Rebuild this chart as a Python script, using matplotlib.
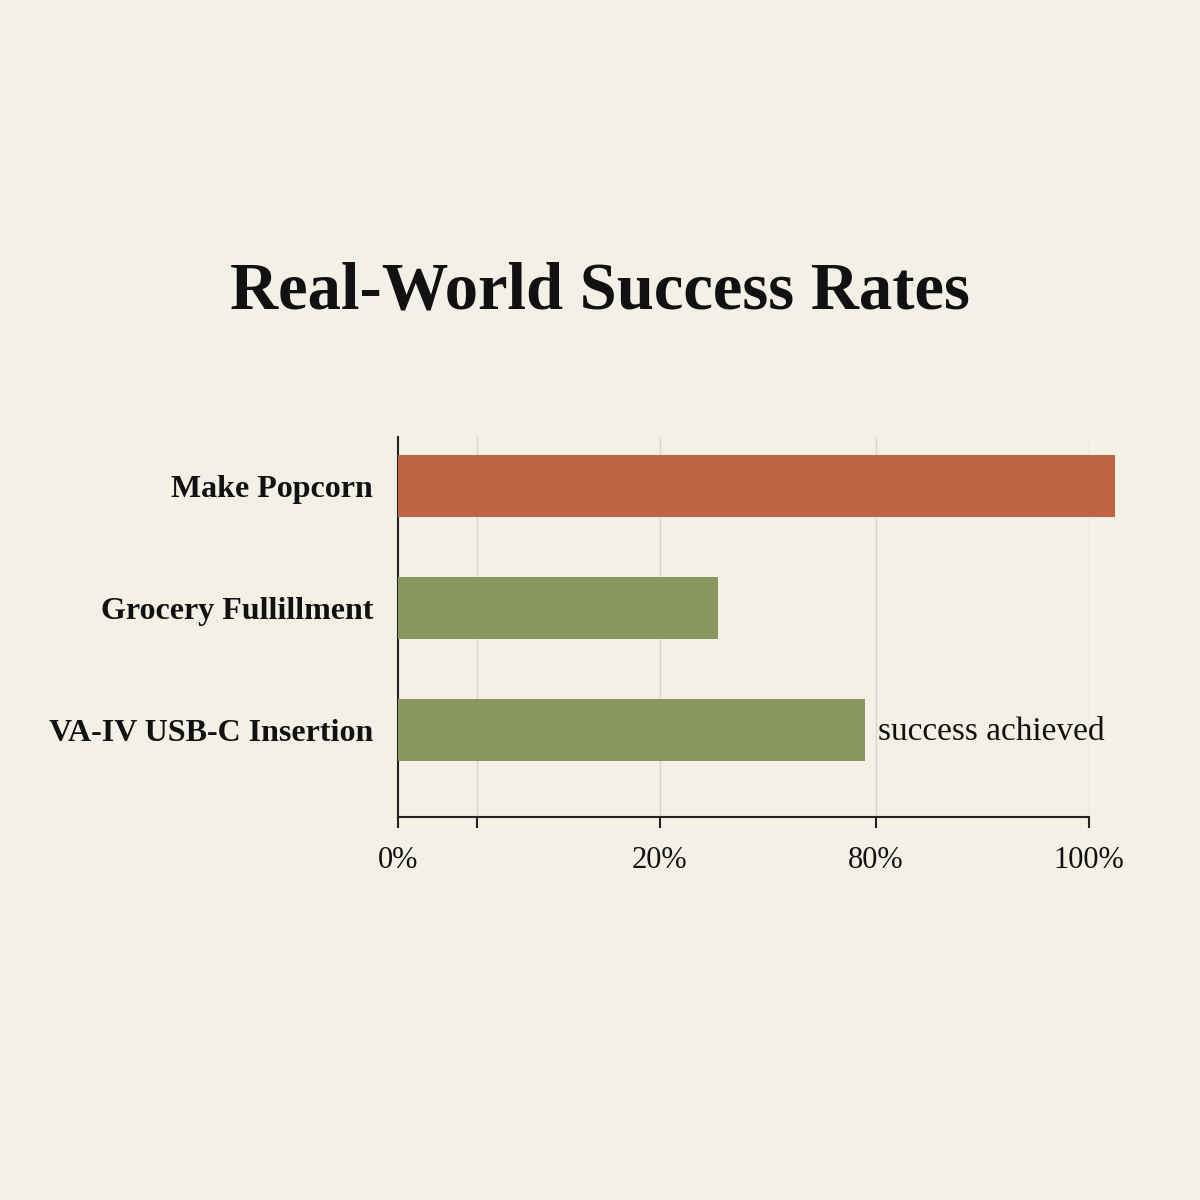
import matplotlib
matplotlib.use("Agg")
import matplotlib.pyplot as plt

# Data
categories = ["Make Popcorn", "Grocery Fullillment", "VA-IV USB-C Insertion"]
values = [103.8, 46.3, 67.6]
bar_colors = ["#BE6443", "#8A9660", "#8A9660"]
tick_positions = [0, 11.4, 37.9, 69.2, 100]
tick_labels = ["0%", "", "20%", "80%", "100%"]
annotation_text = "success achieved"
annotation_index = 2
title = "Real-World Success Rates"

bg = "#F3F0E6"
serif = ["Liberation Serif", "DejaVu Serif"]

fig = plt.figure(figsize=(12, 12), dpi=100, facecolor=bg)
ax = fig.add_axes([398/1200, 1-817/1200, (1089-398)/1200, (817-437)/1200])
ax.set_facecolor(bg)

ypos = list(range(len(categories)))
ax.barh(ypos, values, height=0.51, color=bar_colors, clip_on=False, zorder=3)

ax.set_xlim(0, 100)
ax.set_ylim(2.71, -0.4)

ax.set_yticks(ypos)
ax.set_yticklabels(categories, fontfamily=serif, fontweight="bold", fontsize=23, color="#111111")
ax.tick_params(axis="y", length=0, pad=18)

ax.set_xticks(tick_positions)
ax.set_xticklabels(tick_labels, fontfamily=serif, fontsize=22, color="#111111")
ax.tick_params(axis="x", length=8, width=1.5, color="#222222", pad=13, direction="out")

for t in tick_positions[1:]:
    ax.axvline(t, color="#D8D5CA", linewidth=1.0, zorder=1)

for s in ["top", "right"]:
    ax.spines[s].set_visible(False)
for s in ["left", "bottom"]:
    ax.spines[s].set_color("#222222")
    ax.spines[s].set_linewidth(1.5)

ax.annotate(annotation_text, xy=(values[annotation_index], annotation_index),
            xytext=(9, -1), textcoords="offset points", ha="left", va="center",
            fontfamily=serif, fontsize=24, color="#111111")

fig.text(0.5, 1-292/1200, title, ha="center", va="center",
         fontfamily=serif, fontweight="bold", fontsize=48, color="#111111")

fig.savefig("out.png", dpi=100, facecolor=bg)
